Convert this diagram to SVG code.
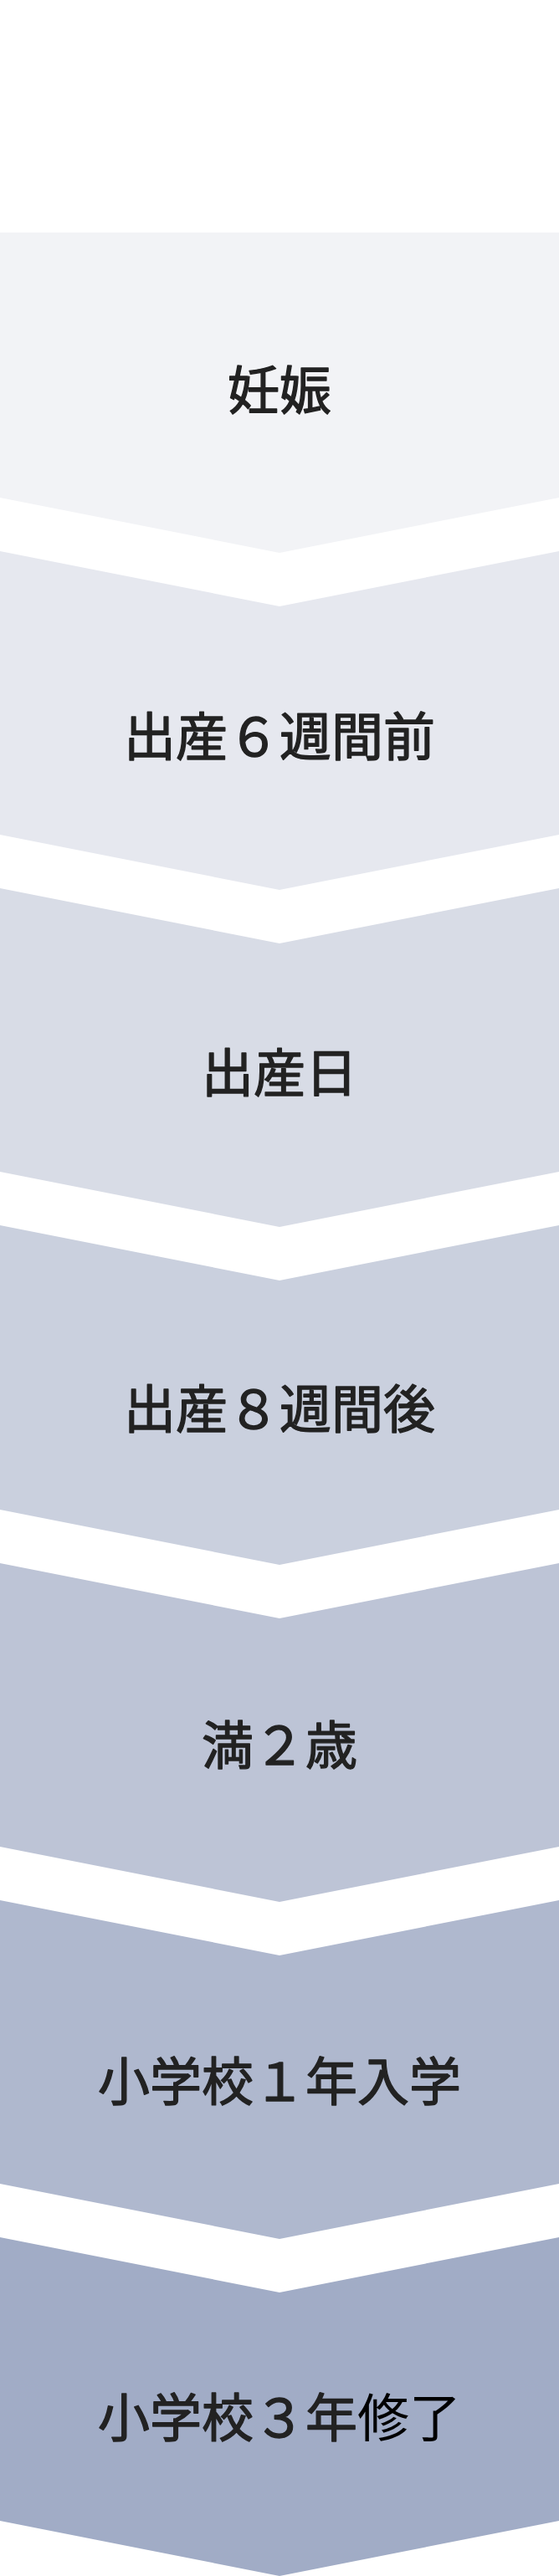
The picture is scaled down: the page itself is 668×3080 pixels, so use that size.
<svg xmlns="http://www.w3.org/2000/svg" width="668" height="3080" viewBox="0 0 668 3080">
  <style>
    .lbl { font-family: "Noto Sans CJK JP", "Noto Sans", sans-serif; font-size: 62px; font-weight: 400; fill: #222222; stroke: #222222; stroke-width: 1.4px; stroke-linejoin: round; text-anchor: middle; }
    .blk { fill: #000000; stroke: none; font-weight: 400; }
  </style>
  <rect x="0" y="0" width="668" height="3080" fill="#ffffff"/>
  <g id="step1">
    <path d="M0,278 H668 V595 L334,661 L0,595 Z" fill="#F2F3F6"/>
    <text class="lbl" x="334" y="490">妊娠</text>
  </g>
  <g id="step2">
    <path d="M0,659 L334,725 L668,659 V998 L334,1064 L0,998 Z" fill="#E6E8EF"/>
    <text class="lbl" x="334" y="904">出産６週間前</text>
  </g>
  <g id="step3">
    <path d="M0,1062 L334,1128 L668,1062 V1401 L334,1467 L0,1401 Z" fill="#D8DCE6"/>
    <text class="lbl" x="334" y="1306">出産日</text>
  </g>
  <g id="step4">
    <path d="M0,1465 L334,1531 L668,1465 V1805 L334,1871 L0,1805 Z" fill="#CAD0DE"/>
    <text class="lbl" x="334" y="1708">出産８週間後</text>
  </g>
  <g id="step5">
    <path d="M0,1869 L334,1935 L668,1869 V2208 L334,2274 L0,2208 Z" fill="#BDC4D6"/>
    <text class="lbl" x="334" y="2110">満２歳</text>
  </g>
  <g id="step6">
    <path d="M0,2272 L334,2338 L668,2272 V2611 L334,2677 L0,2611 Z" fill="#AFB8CE"/>
    <text class="lbl" x="334" y="2512">小学校１年入学</text>
  </g>
  <g id="step7">
    <path d="M0,2675 L334,2741 L668,2675 V3014 L334,3080 L0,3014 Z" fill="#A1ACC6"/>
    <text class="lbl" x="334" y="2914">小学校３年<tspan class="blk">修了</tspan></text>
  </g>
  <g id="connectors"/>
</svg>
